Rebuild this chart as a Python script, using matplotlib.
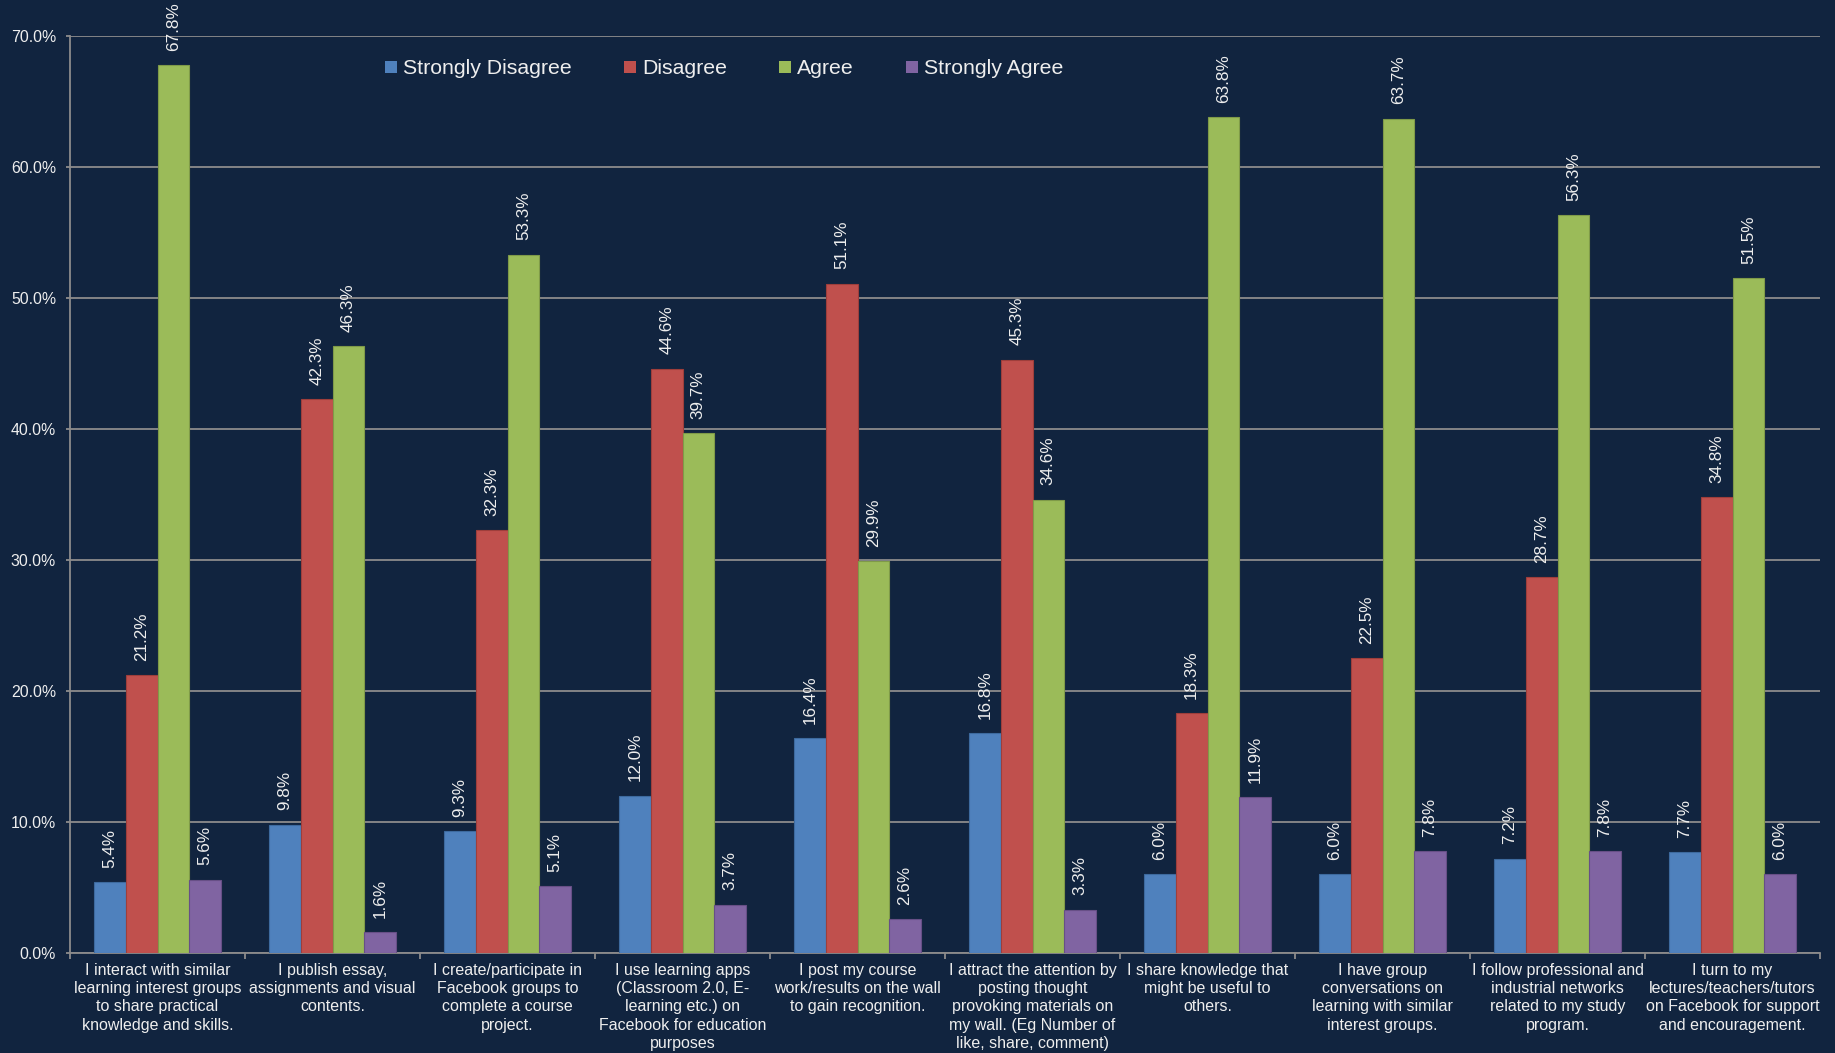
import matplotlib
matplotlib.use("Agg")
import matplotlib.pyplot as plt
import numpy as np
from matplotlib.ticker import FixedLocator, MultipleLocator, PercentFormatter

categories = [
    "I interact with similar\nlearning interest groups\nto share practical\nknowledge and skills.",
    "I publish essay,\nassignments and visual\ncontents.",
    "I create/participate in\nFacebook groups to\ncomplete a course\nproject.",
    "I use learning apps\n(Classroom 2.0, E-\nlearning etc.) on\nFacebook for education\npurposes",
    "I post my course\nwork/results on the wall\nto gain recognition.",
    "I attract the attention by\nposting thought\nprovoking materials on\nmy wall. (Eg Number of\nlike, share, comment)",
    "I share knowledge that\nmight be useful to\nothers.",
    "I have group\nconversations on\nlearning with similar\ninterest groups.",
    "I follow professional and\nindustrial networks\nrelated to my study\nprogram.",
    "I turn to my\nlectures/teachers/tutors\non Facebook for support\nand encouragement.",
]

series_names = ["Strongly Disagree", "Disagree", "Agree", "Strongly Agree"]
strongly_disagree = [5.4, 9.8, 9.3, 12.0, 16.4, 16.8, 6.0, 6.0, 7.2, 7.7]
disagree = [21.2, 42.3, 32.3, 44.6, 51.1, 45.3, 18.3, 22.5, 28.7, 34.8]
agree = [67.8, 46.3, 53.3, 39.7, 29.9, 34.6, 63.8, 63.7, 56.3, 51.5]
strongly_agree = [5.6, 1.6, 5.1, 3.7, 2.6, 3.3, 11.9, 7.8, 7.8, 6.0]

colors = ["#4f81bd", "#c0504d", "#9bbb59", "#8064a2"]
edge_colors = ["#3d6a9e", "#9e3e3b", "#7f9a48", "#674f86"]
bg = "#11243f"
text_color = "#eeeeee"
grid_color = "#8c8c8c"

plt.rcParams["font.family"] = ["Liberation Sans", "DejaVu Sans"]

fig = plt.figure(figsize=(18.35, 10.53), dpi=100, facecolor=bg)
W, H = 1835, 1053
ax = fig.add_axes([70 / W, 1 - 953 / H, (1820 - 70) / W, (953 - 36) / H])
ax.set_facecolor(bg)

x = np.arange(len(categories))
bw = 0.181
all_series = [strongly_disagree, disagree, agree, strongly_agree]
for i, (name, vals) in enumerate(zip(series_names, all_series)):
    pos = x + (i - 1.5) * bw
    bars = ax.bar(pos, vals, width=bw, color=colors[i], edgecolor=edge_colors[i],
                  linewidth=0.8, label=name, zorder=3)
    for b, v in zip(bars, vals):
        ax.annotate(f"{v:.1f}%", (b.get_x() + b.get_width() / 2, v),
                    xytext=(0, 10.3), textcoords="offset points",
                    ha="center", va="bottom", rotation=90,
                    fontsize=12.3, color=text_color, zorder=4)

ax.set_xlim(-0.5, len(categories) - 0.5)
ax.set_ylim(0, 70)
ax.yaxis.set_major_locator(MultipleLocator(10))
ax.yaxis.set_major_formatter(PercentFormatter(decimals=1))
ax.grid(axis="y", color=grid_color, linewidth=1.3, zorder=0)
ax.set_axisbelow(True)

ax.set_xticks(x)
ax.set_xticklabels(categories, fontsize=11.5, color=text_color, linespacing=1.28)
ax.xaxis.set_minor_locator(FixedLocator(np.arange(len(categories) + 1) - 0.5))
ax.tick_params(axis="x", which="major", length=0, pad=7)
ax.tick_params(axis="x", which="minor", length=4, width=1.3, color=grid_color)
ax.tick_params(axis="y", length=3, width=1.3, color=grid_color, labelsize=11.4,
               labelcolor=text_color, pad=7)

for s in ["top", "right"]:
    ax.spines[s].set_visible(False)
for s in ["left", "bottom"]:
    ax.spines[s].set_color(grid_color)
    ax.spines[s].set_linewidth(1.3)

leg = ax.legend(loc="center left", bbox_to_anchor=(385 / W, 1 - 69 / H),
                bbox_transform=fig.transFigure, ncol=4, frameon=False,
                fontsize=15.3, handlelength=0.55, handleheight=0.55,
                handletextpad=0.3, columnspacing=2.45, borderpad=0, borderaxespad=0)
for t in leg.get_texts():
    t.set_color(text_color)
for h in leg.legend_handles:
    h.set_edgecolor("none")

fig.savefig("out.png", dpi=100, facecolor=bg)
